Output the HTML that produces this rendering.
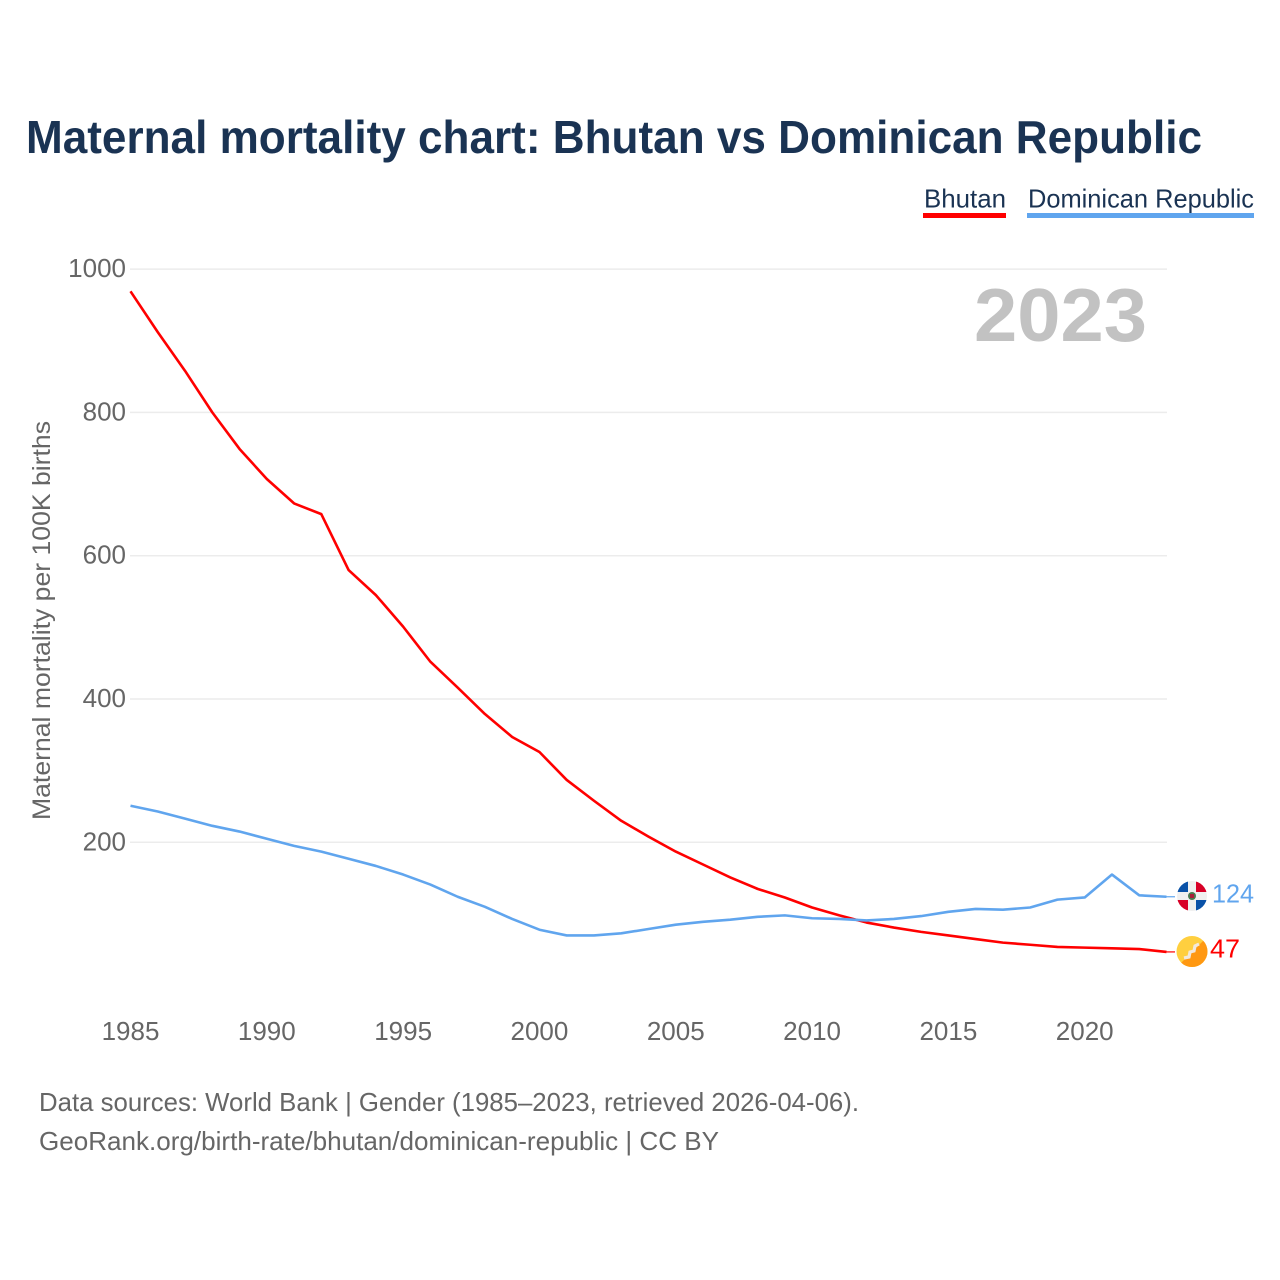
<!DOCTYPE html>
<html lang="en">
<head>
<meta charset="utf-8">
<title>Maternal mortality chart: Bhutan vs Dominican Republic</title>
<style>
html,body{margin:0;padding:0;background:#fff;}
svg{display:block;}
text{font-family:"Liberation Sans",sans-serif;}
</style>
</head>
<body>
<svg id="chart" width="1280" height="1280" viewBox="0 0 1280 1280" xmlns="http://www.w3.org/2000/svg">
  <rect x="0" y="0" width="1280" height="1280" fill="#ffffff"/>
  <text x="26" y="153" font-size="46" font-weight="700" fill="#1a3353" textLength="1176" lengthAdjust="spacingAndGlyphs">Maternal mortality chart: Bhutan vs Dominican Republic</text>

  <g>
    <text x="924" y="207.5" font-size="26" fill="#1a3353" textLength="82" lengthAdjust="spacingAndGlyphs">Bhutan</text>
    <rect x="923" y="213" width="83" height="5" fill="#ff0000"/>
  </g>
  <g>
    <text x="1028" y="207.5" font-size="26" fill="#1a3353" textLength="226" lengthAdjust="spacingAndGlyphs">Dominican Republic</text>
    <rect x="1027" y="213" width="227" height="5" fill="#60a5ee"/>
  </g>

  <g id="grid"></g>
  <g id="yticks"></g>
  <g id="xticks"></g>

  <text transform="translate(50,820) rotate(-90)" x="0" y="0" font-size="25" fill="#666666" textLength="399" lengthAdjust="spacingAndGlyphs">Maternal mortality per 100K births</text>

  <text x="974" y="341" font-size="75" font-weight="700" fill="#c2c2c2" textLength="173" lengthAdjust="spacingAndGlyphs">2023</text>

  <g id="series"></g>

  <g>
    <clipPath id="clip-do"><circle cx="1192" cy="896" r="15"/></clipPath>
    <g clip-path="url(#clip-do)">
      <rect x="1177" y="881" width="30" height="30" fill="#f0f0f0"/>
      <rect x="1177" y="881" width="11" height="11" fill="#0a52a8"/>
      <rect x="1196" y="881" width="11" height="11" fill="#d80027"/>
      <rect x="1177" y="900" width="11" height="11" fill="#d80027"/>
      <rect x="1196" y="900" width="11" height="11" fill="#0a52a8"/>
      <circle cx="1192" cy="896" r="4" fill="#4a7a50"/>
      <rect x="1190" y="894" width="4" height="4" fill="#a8213a"/>
    </g>
  </g>
  <g>
    <clipPath id="clip-bt"><circle cx="1192" cy="951.5" r="15.5"/></clipPath>
    <g clip-path="url(#clip-bt)">
      <rect x="1176" y="936" width="32" height="32" fill="#ffcf3f"/>
      <polygon points="1208,936 1208,968 1176,968" fill="#ff9811"/>
      <polyline points="1184,958 1189,957 1190,952 1194,951 1195,946 1199,944" fill="none" stroke="#f2e9dc" stroke-width="3.2"/>
    </g>
  </g>

  <text id="label-do" x="1212" y="902.5" font-size="26" fill="#60a5ee" textLength="42" lengthAdjust="spacingAndGlyphs">124</text>
  <text id="label-bt" x="1210" y="957.5" font-size="26" fill="#ff0000" textLength="30" lengthAdjust="spacingAndGlyphs">47</text>

  <text x="39" y="1111" font-size="26" fill="#666666" textLength="820" lengthAdjust="spacingAndGlyphs">Data sources: World Bank | Gender (1985–2023, retrieved 2026-04-06).</text>
  <text x="39" y="1150" font-size="26" fill="#666666" textLength="680" lengthAdjust="spacingAndGlyphs">GeoRank.org/birth-rate/bhutan/dominican-republic | CC BY</text>
</svg>
<script>
const years = [1985,1986,1987,1988,1989,1990,1991,1992,1993,1994,1995,1996,1997,1998,1999,2000,2001,2002,2003,2004,2005,2006,2007,2008,2009,2010,2011,2012,2013,2014,2015,2016,2017,2018,2019,2020,2021,2022,2023];
const bhutanValues = [969,912,858,800,749,707,673,658,580,545,501,452,416,379,347,326,287,258,230,208,187,169,151,135,123,109,98,88,81,75,70,65,60,57,54,53,52,51,47];
const dominicanValues = [251,243,233,223,215,205,195,187,177,167,155,141,124,110,93,78,70,70,73,79,85,89,92,96,98,94,93,91,93,97,103,107,106,109,120,123,155,126,124];
const yTickValues = [200,400,600,800,1000];
const xTickValues = [1985,1990,1995,2000,2005,2010,2015,2020];

const NS = 'http://www.w3.org/2000/svg';
function xScale(year){ return 130.5 + (year - 1985) * (1166.5 - 130.5) / 38; }
function yScale(v){ return 985.6 - v * 0.7165; }
function make(tag, attrs, parent){
  const el = document.createElementNS(NS, tag);
  for (const k in attrs) el.setAttribute(k, attrs[k]);
  parent.appendChild(el);
  return el;
}
const grid = document.getElementById('grid');
const yticks = document.getElementById('yticks');
const xticks = document.getElementById('xticks');
const seriesGroup = document.getElementById('series');

yTickValues.forEach(function(v){
  const line = make('line', {x1:130, x2:1167, y1:yScale(v), y2:yScale(v), stroke:'#ececec', 'stroke-width':1.5}, grid);
  
  
  const label = make('text', {x:126, y:yScale(v)+8, 'text-anchor':'end', 'font-size':26, fill:'#666666'}, yticks);
  
  
  label.textContent = String(v);
});

xTickValues.forEach(function(year){
  const label = make('text', {x:xScale(year), y:1040, 'text-anchor':'middle', 'font-size':26, fill:'#666666'}, xticks);
  
  
  label.textContent = String(year);
});

function drawSeries(values, color){
  const pts = values.map(function(v, i){ return xScale(years[i]).toFixed(2) + ',' + yScale(v).toFixed(2); }).join(' ');
  const line = make('polyline', {points:pts, fill:'none', stroke:color, 'stroke-width':2.6, 'stroke-linejoin':'round'}, seriesGroup);
  return line;
}
const bhutanLine = drawSeries(bhutanValues, '#ff0000');


const dominicanLine = drawSeries(dominicanValues, '#60a5ee');



const lastYear = years[years.length - 1];
const bhutanLast = bhutanValues[bhutanValues.length - 1];
const dominicanLast = dominicanValues[dominicanValues.length - 1];
const leaderBt = make('line', {x1:xScale(lastYear), x2:1175, y1:yScale(bhutanLast), y2:yScale(bhutanLast), stroke:'#ff0000', 'stroke-width':1.2}, seriesGroup);


const leaderDo = make('line', {x1:xScale(lastYear), x2:1175, y1:yScale(dominicanLast), y2:yScale(dominicanLast), stroke:'#60a5ee', 'stroke-width':1.2}, seriesGroup);


document.getElementById('label-do').textContent = String(dominicanLast);
document.getElementById('label-bt').textContent = String(bhutanLast);
</script>
</body>
</html>
